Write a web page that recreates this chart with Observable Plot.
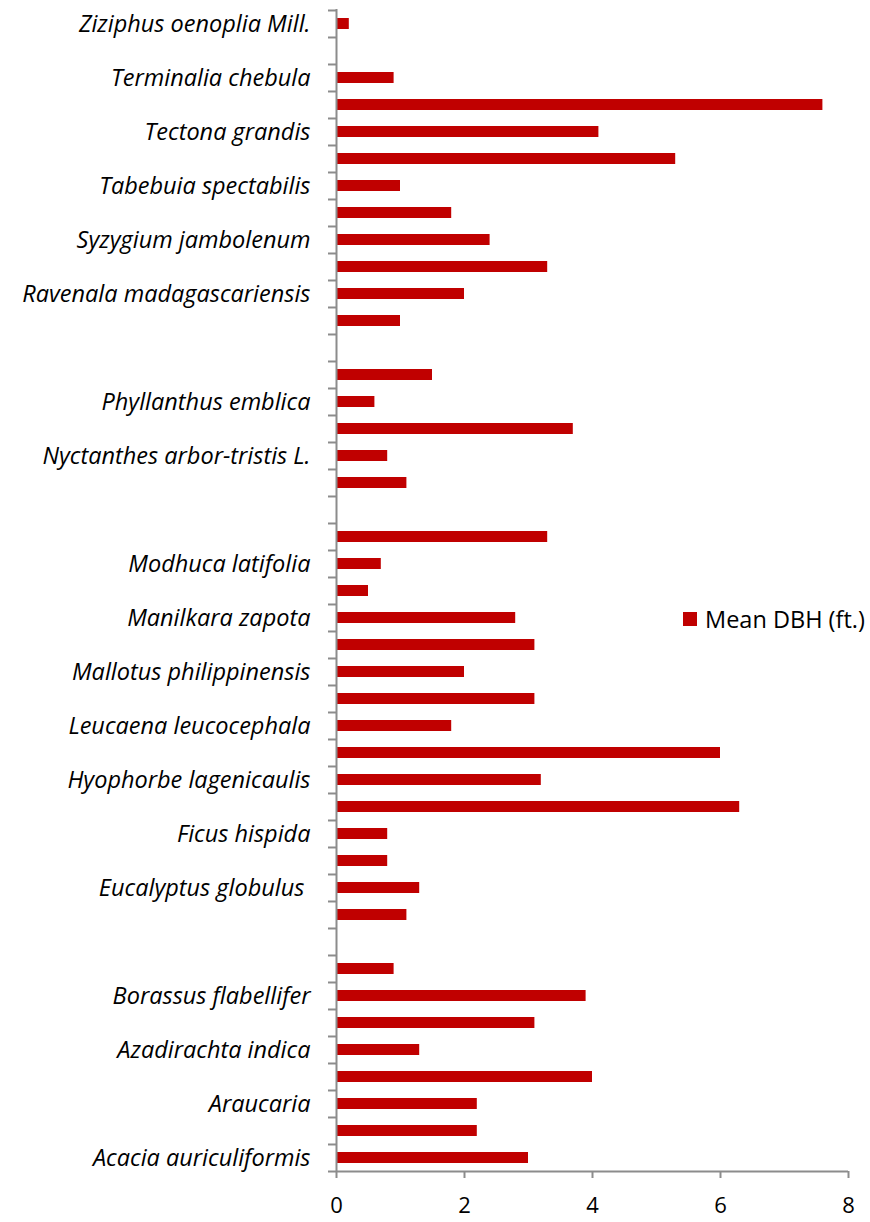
<!DOCTYPE html>
<html>
<head>
<meta charset="utf-8">
<script src="https://cdn.jsdelivr.net/npm/d3@7"></script>
<script src="https://cdn.jsdelivr.net/npm/@observablehq/plot@0.6"></script>
<style>
  html, body { margin: 0; padding: 0; background: #fff; }
  #wrap { position: relative; width: 870px; height: 1222px; }
  #legend { position: absolute; left: 683px; top: 604px; height: 30px; line-height: 30px; font-family: "Open Sans", Lato, sans-serif; font-size: 23.5px; color: #000; display: flex; align-items: center; white-space: nowrap; }
  #legend .sw { width: 14px; height: 14px; background: #C00000; margin-right: 8px; flex: none; }
</style>
</head>
<body>
<div id="wrap"><div id="legend"><span class="sw"></span><span>Mean DBH (ft.)</span></div></div>
<script>
// Category labels (top to bottom); "" where the original axis skipped the label
const tickLabels = [
  "Ziziphus oenoplia Mill.", "", "Terminalia chebula", "", "Tectona grandis", "",
  "Tabebuia spectabilis", "", "Syzygium jambolenum", "", "Ravenala madagascariensis", "",
  "", "", "Phyllanthus emblica", "", "Nyctanthes arbor-tristis L.", "",
  "", "", "Modhuca latifolia", "", "Manilkara zapota", "",
  "Mallotus philippinensis", "", "Leucaena leucocephala", "", "Hyophorbe lagenicaulis", "",
  "Ficus hispida", "", "Eucalyptus globulus\u00a0", "", "", "",
  "Borassus flabellifer", "", "Azadirachta indica", "", "Araucaria", "",
  "Acacia auriculiformis"
];
// Mean DBH (ft.), same order; null = no bar
const meanDBH = [
  0.2, null, 0.9, 7.6, 4.1, 5.3,
  1.0, 1.8, 2.4, 3.3, 2.0, 1.0,
  null, 1.5, 0.6, 3.7, 0.8, 1.1,
  null, 3.3, 0.7, 0.5, 2.8, 3.1,
  2.0, 3.1, 1.8, 6.0, 3.2, 6.3,
  0.8, 0.8, 1.3, 1.1, null, 0.9,
  3.9, 3.1, 1.3, 4.0, 2.2, 2.2,
  3.0
];
const xTicks = [0, 2, 4, 6, 8];

const idx = tickLabels.map((_, i) => i);
const rows = idx.map(i => ({i, v: meanDBH[i]})).filter(d => d.v != null);

const W = 870, H = 1222, mt = 9, mb = 51;
const step = (H - mt - mb) / idx.length;
const gray = "#8c8c8c";

const chart = Plot.plot({
  width: W,
  height: H,
  marginLeft: 336,
  marginRight: 22,
  marginTop: mt,
  marginBottom: mb,
  style: { fontFamily: "'Open Sans', Lato, sans-serif", fontSize: "20px", color: "#000", background: "#fff" },
  x: { domain: [0, 8], label: null },
  y: { domain: idx, paddingInner: 0.6, paddingOuter: 0.3, label: null },
  marks: [
    Plot.barX(rows, { x: "v", y: "i", fill: "#C00000" }),
    // category labels
    Plot.axisY({ tickSize: 0, tickPadding: 26, tickFormat: i => tickLabels[i], fontStyle: "italic", fontSize: 23.5, fill: "#000", label: null }),
    // boundary tick marks between categories
    Plot.axisY({ tickSize: 8, dy: -step / 2, text: null, stroke: gray, strokeWidth: 2, label: null }),
    Plot.axisY({ ticks: [idx[idx.length - 1]], tickSize: 8, dy: step / 2, text: null, stroke: gray, strokeWidth: 2, label: null }),
    // axis lines
    Plot.ruleX([0], { stroke: gray, strokeWidth: 2 }),
    Plot.ruleY([idx[idx.length - 1]], { x1: 0, x2: 8, dy: step / 2, stroke: gray, strokeWidth: 2 }),
    Plot.axisX({ ticks: xTicks, tickSize: 7, tickPadding: 19, stroke: gray, strokeWidth: 2, fontSize: 22, fill: "#000", tickFormat: d => String(d), label: null })
  ]
});
document.getElementById("wrap").prepend(chart);
chart.style.position = "absolute";
chart.style.left = "0";
chart.style.top = "0";
</script>
</body>
</html>
